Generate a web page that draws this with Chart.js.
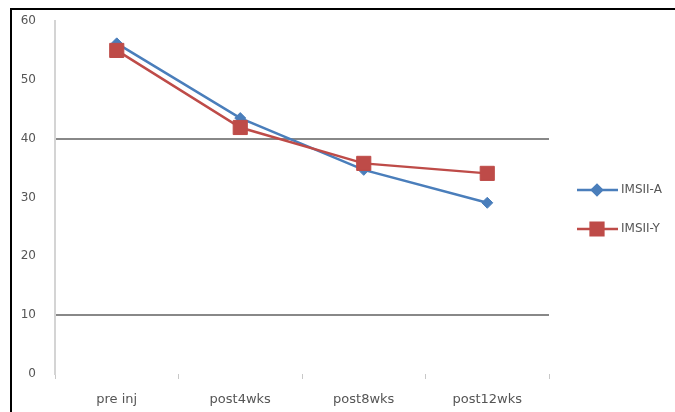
<!DOCTYPE html>
<html>
<head>
<meta charset="utf-8">
<script src="https://cdn.jsdelivr.net/npm/chart.js@4"></script>
<style>
  html, body { margin: 0; padding: 0; background: #fff; overflow: hidden; }
  #wrap { position: absolute; left: 0; top: 0; width: 675px; height: 412px; }
</style>
</head>
<body>
<div id="wrap"><canvas id="myChart"></canvas></div>
<script>
    var categories = ['pre inj', 'post4wks', 'post8wks', 'post12wks'];
    var seriesA = [56.2, 43.5, 34.7, 29.1];
    var seriesB = [55.0, 41.9, 35.8, 34.1];
    var seriesNames = ['IMSII-A', 'IMSII-Y'];
    var yTicks = [0, 10, 20, 30, 40, 50, 60];

    var blue = '#4a7ebb';
    var red = '#be4b48';
    var fontFamily = '"DejaVu Sans", Arial, sans-serif';

    // frame round the picture and the legend on the right
    var extras = {
        id: 'extras',
        beforeDraw: function (chart) {
            var c = chart.ctx;
            c.save();
            c.strokeStyle = '#000';
            c.lineWidth = 2;
            c.beginPath();
            c.moveTo(11, 412);
            c.lineTo(11, 9);
            c.lineTo(675, 9);
            c.stroke();
            c.restore();
        },
        afterDraw: function (chart) {
            var c = chart.ctx;
            var rows = [
                { y: 190, color: blue, style: 'rectRot', r: 5, label: seriesNames[0] },
                { y: 229, color: red, style: 'rect', r: 9, label: seriesNames[1] }
            ];
            c.save();
            rows.forEach(function (row) {
                c.strokeStyle = row.color;
                c.lineWidth = 2.5;
                c.beginPath();
                c.moveTo(577, row.y);
                c.lineTo(618, row.y);
                c.stroke();
                c.fillStyle = row.color;
                Chart.helpers.drawPoint(c, { pointStyle: row.style, radius: row.r, borderWidth: 1 }, 597, row.y);
                c.fill();
                c.fillStyle = '#555';
                c.font = '12px ' + fontFamily;
                c.textBaseline = 'middle';
                c.fillText(row.label, 621, row.y);
            });
            c.restore();
        }
    };

    var ctx = document.getElementById('myChart').getContext('2d');
    var chart = new Chart(ctx, {
        type: 'line',
        data: {
            labels: categories,
            datasets: [{
                label: seriesNames[0],
                data: seriesA,
                borderColor: blue,
                backgroundColor: blue,
                borderWidth: 2.5,
                pointStyle: 'rectRot',
                pointRadius: 5.5,
                pointBorderWidth: 1,
                tension: 0,
                order: 1
            }, {
                label: seriesNames[1],
                data: seriesB,
                borderColor: red,
                backgroundColor: red,
                borderWidth: 2.5,
                pointStyle: 'rect',
                pointRadius: 10,
                pointBorderWidth: 1,
                tension: 0,
                order: 0
            }]
        },
        options: {
            responsive: true,
            maintainAspectRatio: false,
            animation: false,
            layout: { padding: { left: 0, right: 126, top: 21, bottom: 0 } },
            plugins: {
                legend: { display: false },
                tooltip: { enabled: false }
            },
            scales: {
                x: {
                    offset: true,
                    afterFit: function (scale) { scale.height = 38; },
                    grid: {
                        offset: true,
                        drawOnChartArea: false,
                        drawTicks: true,
                        tickLength: 5,
                        color: '#c8c8c8',
                        lineWidth: 1
                    },
                    border: { display: false },
                    ticks: {
                        padding: 13,
                        color: '#555',
                        font: { family: fontFamily, size: 13 }
                    }
                },
                y: {
                    min: 0,
                    max: 60,
                    afterFit: function (scale) { scale.width = 55; },
                    afterBuildTicks: function (scale) {
                        scale.ticks = yTicks.map(function (v) { return { value: v }; });
                    },
                    grid: {
                        drawTicks: true,
                        tickLength: 17,
                        tickColor: 'rgba(0,0,0,0)',
                        color: function (c) {
                            return (c.tick && (c.tick.value === 10 || c.tick.value === 40)) ? '#888' : 'rgba(0,0,0,0)';
                        },
                        lineWidth: 2
                    },
                    border: { display: true, color: '#d4d4d4', width: 2 },
                    ticks: {
                        padding: 2,
                        color: '#555',
                        font: { family: fontFamily, size: 12 }
                    }
                }
            }
        },
        plugins: [extras]
    });
</script>
</body>
</html>
